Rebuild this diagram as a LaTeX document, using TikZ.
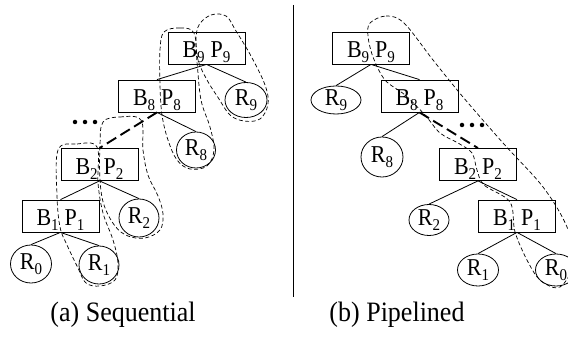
\documentclass[tikz,border=0pt]{standalone}
\usepackage{fontspec}
\setmainfont{Liberation Serif}
\usetikzlibrary{shapes.geometric}
\newcommand\sbx[2]{\scalebox{1}[1.1]{#1\raisebox{-4.5pt}{\fontsize{15}{15}\selectfont #2}}}
\newcommand\captxt[1]{\scalebox{1}[1.08]{#1}}
\begin{document}
\begin{tikzpicture}[x=1pt,y=-1pt,
 box/.style={draw, line width=0.8pt, minimum width=77pt, minimum height=32pt, inner sep=0pt,
   text height=20pt, text depth=0pt, font=\fontsize{22}{22}\selectfont},
 rnode/.style={draw, ellipse, line width=0.8pt, inner sep=0pt, text height=14pt, text depth=2pt,
   font=\fontsize{22}{22}\selectfont},
 edge/.style={line width=0.8pt},
 thickdash/.style={line width=1.9pt, dash pattern=on 11pt off 5pt},
 blob/.style={line width=0.7pt, dash pattern=on 4pt off 2.5pt},
 captext/.style={font=\fontsize{26}{26}\selectfont, anchor=base},
 dotn/.style={circle, fill, inner sep=0pt, minimum size=4.5pt}]
\useasboundingbox (0,0) rectangle (568,339);
% ---------- left: sequential ----------
\node[box] (l9) at (206.5,48) {\sbx{B}{9}\hspace{6pt}\sbx{P}{9}};
\node[box] (l8) at (157,96) {\sbx{B}{8}\hspace{6pt}\sbx{P}{8}};
\node[box] (l2) at (99.5,164.5) {\sbx{B}{2}\hspace{6pt}\sbx{P}{2}};
\node[box] (l1) at (60.5,216) {\sbx{B}{1}\hspace{6pt}\sbx{P}{1}};
\node[rnode, minimum width=42pt, minimum height=35pt] (lr9) at (246,100) {\sbx{R}{9}};
\node[rnode, minimum width=39pt, minimum height=36pt] (lr8) at (196,150) {\sbx{R}{8}};
\node[rnode, minimum width=40pt, minimum height=38pt] (lr2) at (139,218) {\sbx{R}{2}};
\node[rnode, minimum width=40pt, minimum height=38pt] (lr1) at (99,265) {\sbx{R}{1}};
\node[rnode, minimum width=41pt, minimum height=38pt] (lr0) at (31,264) {\sbx{R}{0}};
\draw[edge] (l9.south) -- (l8.north);
\draw[edge] (l9.south) -- (lr9.north);
\draw[edge] (l8.south) -- (lr8.north);
\draw[thickdash] (l8.south) -- (l2.north);
\draw[edge] (l2.south) -- (l1.north);
\draw[edge] (l2.south) -- (lr2.north);
\draw[edge] (l1.south) -- (lr0.north);
\draw[edge] (l1.south) -- (lr1.north);
\node[dotn] (ld1) at (75,122) {};
\node[dotn] (ld2) at (85,122) {};
\node[dotn] (ld3) at (95,122) {};
% blobs left
\draw[blob] plot[smooth cycle, tension=0.6] coordinates {(58,150) (77,144) (97,147) (98,183) (103,213) (113,240) (118,263) (115,280) (100,286) (86,283) (78,268) (67,245) (60,227) (57,195)};
\draw[blob] plot[smooth cycle, tension=0.6] coordinates {(103,122) (120,117) (141,120) (143,150) (148,175) (158,196) (163,214) (160,230) (145,238) (128,236) (115,226) (104,205) (100,180) (100,145)};
\draw[blob] plot[smooth cycle, tension=0.6] coordinates {(164,32) (180,28) (194,33) (197,62) (201,100) (210,127) (214,150) (207,166) (190,169) (177,160) (168,140) (162,115) (160,85) (160,50)};
\draw[blob] plot[smooth cycle, tension=0.6] coordinates {(199,25) (211,15) (226,16) (236,31) (251,56) (265,85) (268,104) (260,119) (244,121) (230,115) (219,99) (207,80) (198,60) (196,40)};
% separator
\coordinate (s1) at (293,5);
\coordinate (s2) at (293,297);
\draw[line width=0.8pt] (s1) -- (s2);
% ---------- right: pipelined ----------
\node[box] (r9) at (371,48) {\sbx{B}{9}\hspace{6pt}\sbx{P}{9}};
\node[box] (r8) at (419.5,96) {\sbx{B}{8}\hspace{6pt}\sbx{P}{8}};
\node[box] (r2) at (478,164.5) {\sbx{B}{2}\hspace{6pt}\sbx{P}{2}};
\node[box] (r1) at (517,216) {\sbx{B}{1}\hspace{6pt}\sbx{P}{1}};
\node[rnode, minimum width=50pt, minimum height=28pt] (rr9) at (336,100) {\sbx{R}{9}};
\node[rnode, minimum width=42pt, minimum height=40pt] (rr8) at (382,157) {\sbx{R}{8}};
\node[rnode, minimum width=40pt, minimum height=31pt] (rr2) at (429,220) {\sbx{R}{2}};
\node[rnode, minimum width=41pt, minimum height=32pt] (rr1) at (478,270) {\sbx{R}{1}};
\node[rnode, minimum width=41pt, minimum height=32pt] (rr0) at (556,270) {\sbx{R}{0}};
\draw[edge] (r9.south) -- (rr9.north);
\draw[edge] (r9.south) -- (r8.north);
\draw[edge] (r8.south) -- (rr8.north);
\draw[thickdash] (r8.south) -- (r2.north);
\draw[edge] (r2.south) -- (rr2.north);
\draw[edge] (r2.south) -- (r1.north);
\draw[edge] (r1.south) -- (rr1.north);
\draw[edge] (r1.south) -- (rr0.north);
\node[dotn] (rd1) at (462,125) {};
\node[dotn] (rd2) at (472,125) {};
\node[dotn] (rd3) at (482,125) {};
\draw[blob] plot[smooth cycle, tension=0.55] coordinates {(370,23) (386,16) (404,23) (433,60) (463,97) (503,143) (543,187) (567,227) (574,262) (560,287) (541,281) (528,262) (515,232) (510,202) (484,185) (477,170) (472,153) (458,143) (440,133) (425,115) (405,95) (385,80) (373,57) (368,36)};
% captions
\node[captext] (ca) at (123,322) {\captxt{(a) Sequential}};
\node[captext] (cb) at (397,322) {\captxt{(b) Pipelined}};
\end{tikzpicture}
\end{document}
